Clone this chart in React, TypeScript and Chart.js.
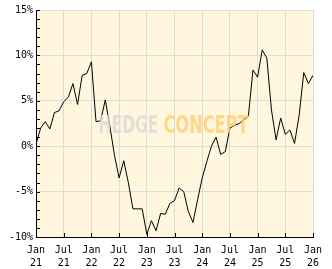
import React, { useEffect, useRef } from "react";
import { Chart, registerables } from "chart.js";

Chart.register(...registerables);

// Monthly performance (%), Jan 2021 .. Jan 2026
const y2021 = [0.2, 2.0, 2.7, 1.9, 3.7, 3.9, 4.9, 5.4, 6.9, 4.6, 7.8, 8.0];
const y2022 = [9.3, 2.7, 2.8, 5.1, 2.2, -1.0, -3.5, -1.6, -4.0, -6.9, -6.9, -6.9];
const y2023 = [-9.7, -8.2, -9.3, -7.4, -7.5, -6.3, -6.0, -4.6, -5.0, -7.2, -8.4, -5.9];
const y2024 = [-3.5, -1.7, 0.0, 1.0, -0.9, -0.6, 2.0, 2.3, 2.5, 2.9, 3.3, 8.4];
const y2025 = [7.6, 10.6, 9.7, 4.0, 0.7, 3.1, 1.3, 1.8, 0.3, 3.4, 8.1, 6.9];
const y2026 = [7.8];

const firstYear = 21;
const halfYearNames = ["Jan", "Jul"];
const yMin = -10;
const yMax = 15;
const yStep = 5;

export default function App() {
  const ref = useRef<HTMLCanvasElement>(null);

  useEffect(() => {
    document.body.style.margin = "0";
    const canvas = ref.current;
    if (!canvas) return;
    const values = [...y2021, ...y2022, ...y2023, ...y2024, ...y2025, ...y2026];
    const points = values.map((v, i) => ({ x: i, y: v }));

    const deco = {
      id: "deco",
      beforeDraw(chart: any) {
        const { ctx, chartArea: a } = chart;
        ctx.save();
        ctx.fillStyle = "#fff6dd";
        ctx.fillRect(a.left, a.top, a.right - a.left, a.bottom - a.top);
        ctx.restore();
      },
      afterDatasetsDraw(chart: any) {
        const { ctx, chartArea: a } = chart;
        const cx = (a.left + a.right) / 2;
        const cy = (a.top + a.bottom) / 2;
        ctx.save();
        ctx.globalAlpha = 0.8;
        ctx.font = 'bold 25px "DejaVu Sans Condensed", "Liberation Sans Narrow", sans-serif';
        ctx.textBaseline = "alphabetic";
        ctx.textAlign = "left";
        const base = cy + 9;
        const w1 = ctx.measureText("HEDGE").width;
        ctx.save();
        ctx.translate(cx - 76, base);
        ctx.scale(60 / w1, 1);
        ctx.fillStyle = "#d9d9d9";
        ctx.fillText("HEDGE", 0, 0);
        ctx.restore();
        const w2 = ctx.measureText("CONCEPT").width;
        ctx.save();
        ctx.translate(cx - 11, base);
        ctx.scale(85 / w2, 1);
        ctx.fillStyle = "#ffcf72";
        ctx.fillText("CONCEPT", 0, 0);
        ctx.restore();
        ctx.restore();
      },
      afterDraw(chart: any) {
        const { ctx, chartArea: a, scales } = chart;
        ctx.save();
        ctx.strokeStyle = "#000";
        ctx.lineWidth = 1;
        ctx.beginPath();
        for (let v = yMin; v <= yMax; v += 1) {
          const y = Math.round(scales.y.getPixelForValue(v)) + 0.5;
          ctx.moveTo(a.left, y);
          ctx.lineTo(a.left + 4, y);
        }
        for (let m = 6; m < values.length; m += 6) {
          const x = Math.round(scales.x.getPixelForValue(m)) + 0.5;
          ctx.moveTo(x, a.bottom);
          ctx.lineTo(x, a.bottom - 4);
        }
        ctx.stroke();
        ctx.restore();
      },
    };

    const tickFont = { family: '"DejaVu Sans Mono", monospace', size: 10, lineHeight: 1.3 };

    const chart = new Chart(canvas, {
      type: "line",
      data: {
        datasets: [
          {
            data: points,
            borderColor: "#000",
            borderWidth: 1,
            pointRadius: 0,
            tension: 0,
            fill: false,
          },
        ],
      },
      options: {
        animation: false,
        responsive: false,
        devicePixelRatio: 1,
        layout: { padding: { top: 10, right: 19, left: 0, bottom: 0 } },
        plugins: { legend: { display: false }, tooltip: { enabled: false } },
        scales: {
          x: {
            type: "linear",
            min: 0,
            max: values.length - 1,
            afterFit: (s: any) => {
              s.height = 32;
            },
            grid: { color: "#dcdcdc", lineWidth: 1, drawTicks: false },
            border: { color: "#000", width: 1 },
            ticks: {
              stepSize: 6,
              padding: 7,
              maxRotation: 0,
              autoSkip: false,
              color: "#000",
              font: tickFont,
              callback: (v: any) => {
                const i = Number(v);
                return [halfYearNames[(i % 12) / 6], String(firstYear + Math.floor(i / 12))];
              },
            },
          },
          y: {
            min: yMin,
            max: yMax,
            afterFit: (s: any) => {
              s.width = 36;
            },
            grid: { color: "#dcdcdc", lineWidth: 1, drawTicks: false },
            border: { color: "#000", width: 1 },
            ticks: {
              stepSize: yStep,
              padding: 3,
              color: "#000",
              font: tickFont,
              callback: (v: any) => v + "%",
            },
          },
        },
      },
      plugins: [deco],
    });
    return () => chart.destroy();
  }, []);

  return (
    <div style={{ position: "fixed", left: 0, top: 0, width: 332, height: 269, background: "#fff" }}>
      <canvas ref={ref} width={332} height={269} style={{ display: "block" }} />
    </div>
  );
}
